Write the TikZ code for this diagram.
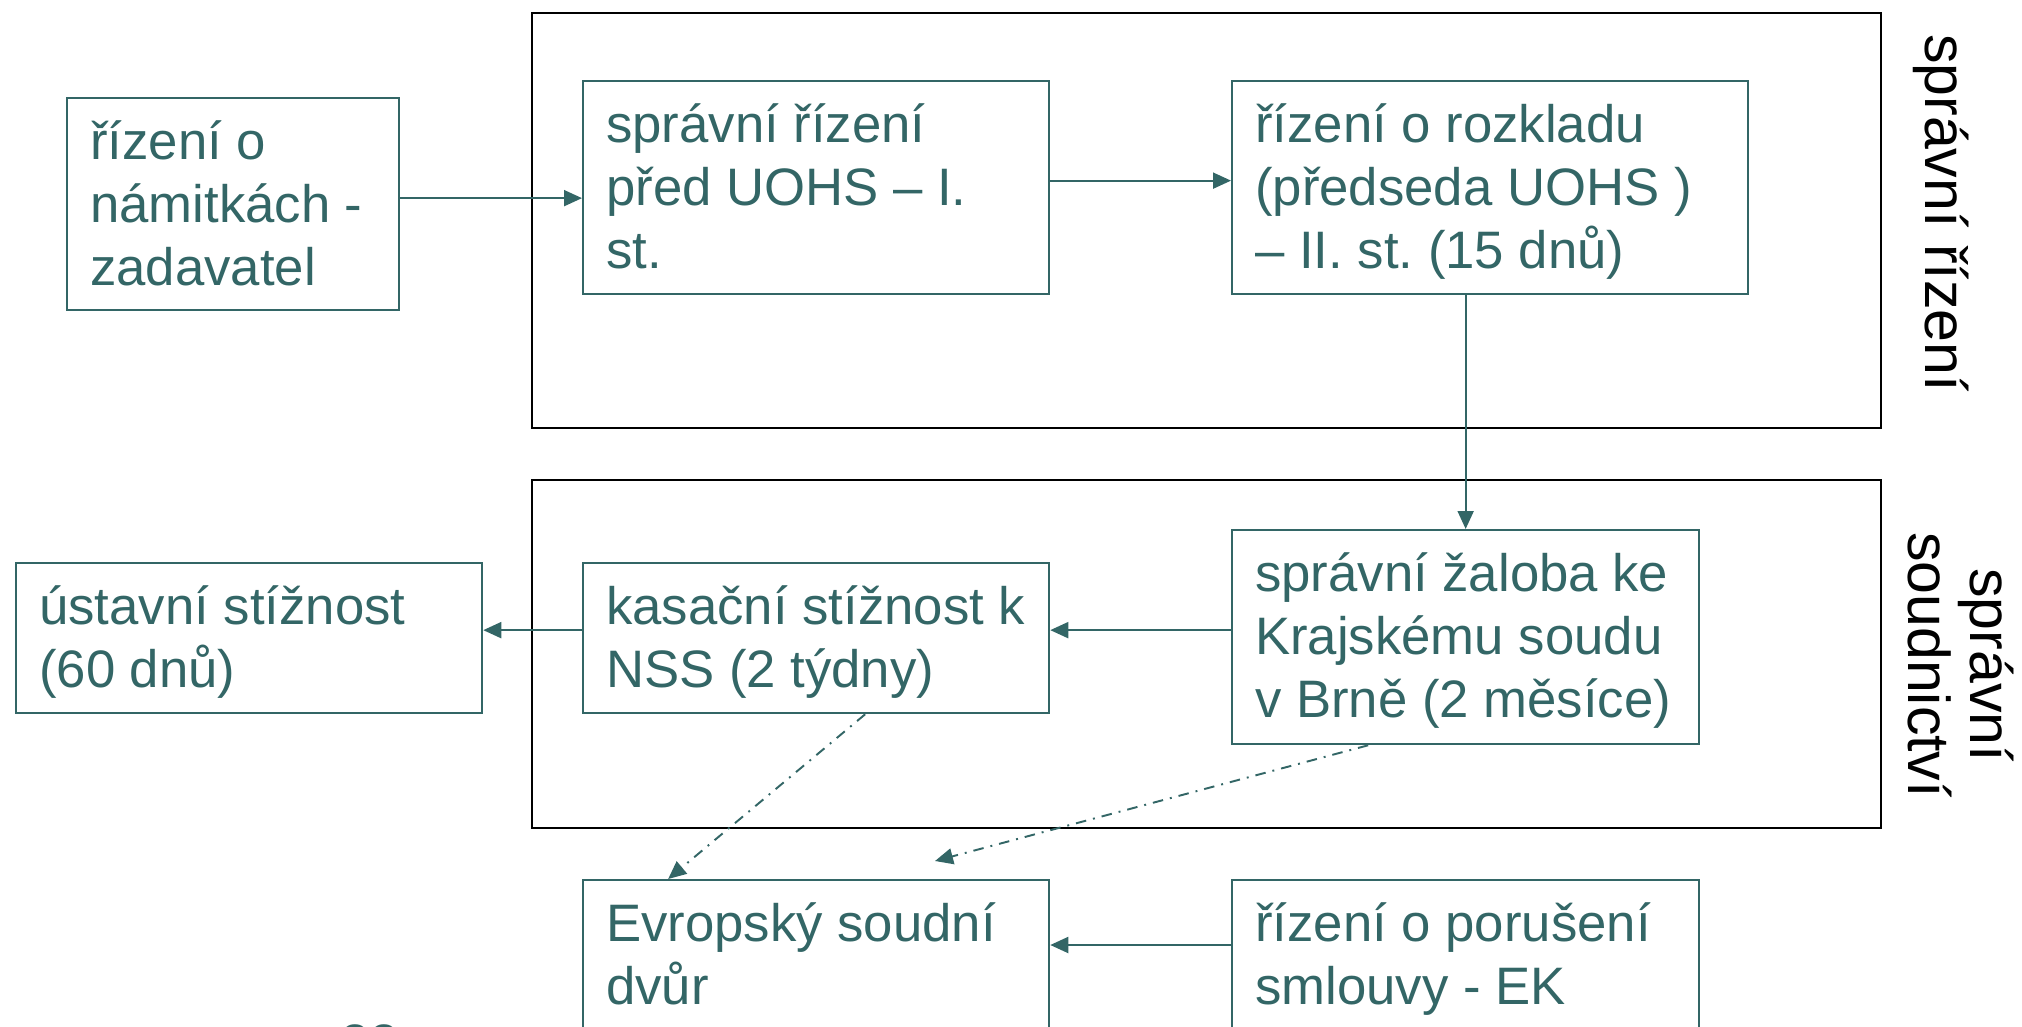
\documentclass[tikz,border=0pt]{standalone}
\usepackage{fontspec}
\setmainfont{Liberation Sans}
\usepackage{xcolor}
\usetikzlibrary{shapes,arrows.meta,positioning,calc}
\definecolor{uohs}{RGB}{51,102,102}

\tikzset{
  box/.style={draw=uohs, line width=0.65pt, text=uohs, anchor=north west, align=flush left,
    inner xsep=2.3mm, inner ysep=0pt, text height=6.1mm,
    font=\fontsize{15pt}{18pt}\selectfont\frenchspacing},
  frame/.style={draw=black, line width=0.75pt},
  vlabel/.style={rotate=-90, align=center, font=\fontsize{16.8pt}{17.6pt}\selectfont},
  flow/.style={-{Triangle[length=1.8mm,width=1.6mm]}, draw=uohs, line width=0.55pt},
  link/.style={-{Triangle[length=1.8mm,width=1.6mm]}, draw=uohs, line width=0.55pt, dash dot}
}

\begin{document}
\begin{tikzpicture}[x=0.1mm, y=-0.1mm]
        \useasboundingbox (0,0) rectangle (2022,1027);
        % Draw frames
        \draw[frame] (532,13) rectangle (1881,428);
        \draw[frame] (532,480) rectangle (1881,828);
        \node[vlabel] (lblrizeni) at (1941,213) {správní řízení};
        \node[vlabel] (lblsoud) at (1961,665) {správní\\soudnictví};
        % Draw boxes
        \node[box, minimum width=33.2mm, text width=28.6mm, text depth=15.1mm] (namitky) at (66,97) {řízení o\\námitkách -\\zadavatel};
        \node[box, minimum width=46.6mm, text width=42mm, text depth=15.2mm] (spravni) at (582,80) {správní řízení\\před UOHS – I.\\st.};
        \node[box, minimum width=51.6mm, text width=47mm, text depth=15.2mm] (rozklad) at (1231,80) {řízení o rozkladu\\(předseda UOHS )\\– II. st. (15 dnů)};
        \node[box, minimum width=46.7mm, text width=42.1mm, text depth=15.3mm] (zaloba) at (1231,529) {správní žaloba ke\\Krajskému soudu\\v Brně (2 měsíce)};
        \node[box, minimum width=46.6mm, text width=42mm, text depth=8.9mm] (kasacni) at (582,562) {kasační stížnost k\\NSS (2 týdny)};
        \node[box, minimum width=46.6mm, text width=42mm, text depth=8.9mm] (ustavni) at (15,562) {ústavní stížnost\\(60 dnů)};
        \node[box, minimum width=46.6mm, text width=42mm, text depth=16mm] (evropsky) at (582,879) {Evropský soudní\\dvůr};
        \node[box, minimum width=46.7mm, text width=42.1mm, text depth=16mm] (poruseni) at (1231,879) {řízení o porušení\\smlouvy - EK};
        \node[text=uohs, anchor=north, font=\fontsize{15pt}{18pt}\selectfont] (strana) at (370,1012) {22};
        % Draw connectors
        \draw[flow] ([yshift=0.6mm]namitky.east) -- ([yshift=0.6mm]namitky.east -| spravni.west);
        \draw[flow] ([yshift=0.7mm]spravni.east) -- ([yshift=0.7mm]spravni.east -| rozklad.west);
        \draw[flow] (rozklad.south -| zaloba.north) -- (zaloba.north);
        \draw[flow] ([yshift=0.8mm]kasacni.east -| zaloba.west) -- ([yshift=0.8mm]kasacni.east);
        \draw[flow] ([yshift=0.8mm]kasacni.west) -- ([yshift=0.8mm]kasacni.west -| ustavni.east);
        \draw[flow] ([yshift=-6.6mm]poruseni.north west) -- ([yshift=-6.6mm]poruseni.north west -| evropsky.east);
        % Dash-dot links to the court
        \coordinate (esdtip) at (935,861);
        \draw[link] ([xshift=4.9mm]kasacni.south) -- ([xshift=-14.8mm]evropsky.north);
        \draw[link] ([xshift=-9.75mm]zaloba.south) -- (esdtip);
\end{tikzpicture}
\end{document}
